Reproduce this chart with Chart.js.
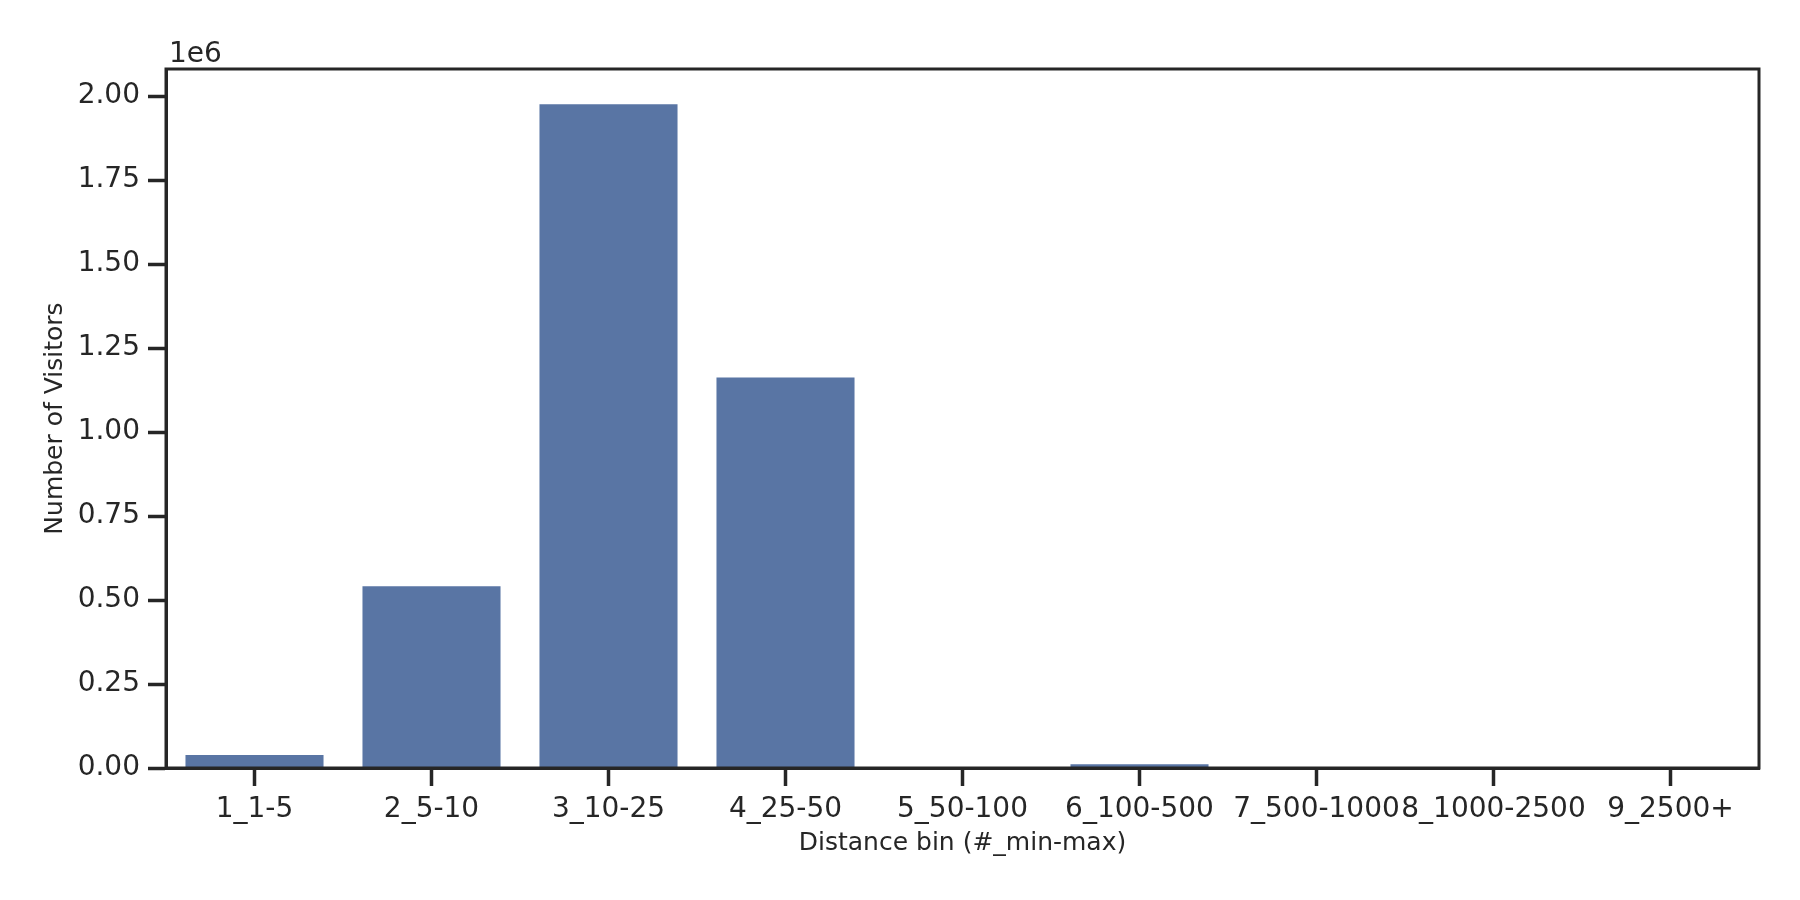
<!DOCTYPE html>
<html>
<head>
<meta charset="utf-8">
<script src="https://cdn.jsdelivr.net/npm/chart.js@4"></script>
<style>
  html, body { margin: 0; padding: 0; background: #ffffff; }
  #wrap { width: 1800px; height: 900px; }
</style>
</head>
<body>
<div id="wrap"><canvas id="chart" width="1800" height="900"></canvas></div>
<script>
// ---------- Data ----------

const distanceBins = ["1_1-5", "2_5-10", "3_10-25", "4_25-50", "5_50-100",
                      "6_100-500", "7_500-1000", "8_1000-2500", "9_2500+"];

const visitors = [39000, 541000, 1976000, 1162500, 600, 11000, 200, 80, 40];

const yTicks = [0, 250000, 500000, 750000, 1000000, 1250000, 1500000, 1750000, 2000000];

const ink = "#262626";
const barColor = "#5975a4";
const fontFamily = "'DejaVu Sans', sans-serif";

// -------- Frame + offset label --------

const framePlugin = {
    id: "frame",
    afterDraw(chart) {
        const ctx = chart.ctx;
        const a = chart.chartArea;
        ctx.save();
        ctx.strokeStyle = ink;
        ctx.lineWidth = 3;
        ctx.strokeRect(a.left, a.top, a.right - a.left, a.bottom - a.top);
        ctx.fillStyle = ink;
        ctx.font = "28px " + fontFamily;
        ctx.textAlign = "left";
        ctx.textBaseline = "alphabetic";
        ctx.fillText("1e6", a.left + 3, a.top - 7);
        ctx.restore();
    }
};

// -------- Chart --------

new Chart(document.getElementById("chart"), {

    type: "bar",

    data: {
        labels: distanceBins,
        datasets: [{
            label: "Number of Visitors",
            data: visitors,
            backgroundColor: barColor,
            borderWidth: 0,
            barPercentage: 0.78,
            categoryPercentage: 1.0
        }]
    },

    options: {

        responsive: false,
        animation: false,

        layout: {
            padding: { left: 0, right: 41, top: 69, bottom: 0 }
        },

        plugins: {
            legend: { display: false },
            tooltip: { enabled: false }
        },

        scales: {

            x: {
                grid: {
                    offset: false,
                    drawOnChartArea: false,
                    drawTicks: true,
                    tickLength: 18,
                    tickWidth: 3.5,
                    tickColor: ink
                },
                border: { display: true, color: ink, width: 3 },
                ticks: {
                    color: ink,
                    autoSkip: false,
                    maxRotation: 0,
                    minRotation: 0,
                    padding: 7,
                    font: { family: fontFamily, size: 28 }
                },
                title: {
                    display: true,
                    text: "Distance bin (#_min-max)",
                    color: ink,
                    font: { family: fontFamily, size: 25 },
                    padding: { top: 0, bottom: 42 }
                },
                afterFit(scale) { scale.height = 132; }
            },

            y: {
                min: 0,
                max: 2081000,
                afterBuildTicks(scale) {
                    scale.ticks = yTicks.map(v => ({ value: v }));
                },
                grid: {
                    drawOnChartArea: false,
                    drawTicks: true,
                    tickLength: 18,
                    tickWidth: 3.5,
                    tickColor: ink
                },
                border: { display: true, color: ink, width: 3 },
                ticks: {
                    color: ink,
                    padding: 8,
                    font: { family: fontFamily, size: 28 },
                    callback: v => (v / 1e6).toFixed(2)
                },
                title: {
                    display: true,
                    text: "Number of Visitors",
                    color: ink,
                    font: { family: fontFamily, size: 25 },
                    padding: { top: 40, bottom: 0 }
                },
                afterFit(scale) { scale.width = 166; }
            }

        }

    },

    plugins: [framePlugin]

});
</script>
</body>
</html>
